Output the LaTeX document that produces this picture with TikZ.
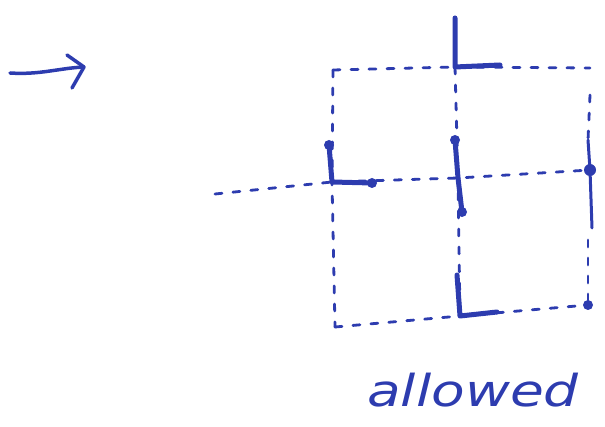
\documentclass[tikz,border=0pt]{standalone}
\usepackage{fontspec}
\setmainfont{DejaVu Sans}
\definecolor{ink}{RGB}{45,60,175}
\begin{document}
\begin{tikzpicture}[x=1pt,y=-1pt,
  gridline/.style={ink, line width=2.8pt, dash pattern=on 7pt off 11pt, line cap=round},
  lmark/.style={ink, line width=5pt, line cap=round, line join=round},
  blob/.style={circle, fill=ink, inner sep=0pt, minimum size=10pt},
  lbl/.style={ink, font=\fontsize{44}{44}\selectfont, inner sep=0pt, xscale=1.25}]
\useasboundingbox (0,0) rectangle (605,427);
% grid points
\coordinate (tl) at (333,70);
\coordinate (tm) at (455,67);
\coordinate (tr) at (590,68);
\coordinate (ml) at (332,182);
\coordinate (mm) at (458,178);
\coordinate (mr) at (590,170);
\coordinate (bl) at (335,327);
\coordinate (bm) at (460,316);
\coordinate (br) at (588,305);
\coordinate (ext) at (215,194);
\coordinate (top) at (455,18);
% dashed grid
\draw[gridline] (tl) -- (tm) -- (tr);
\draw[gridline] (ext) -- (ml) -- (mm) -- (mr);
\draw[gridline] (bl) -- (bm) -- (br);
\draw[gridline] (tl) -- (ml) -- (bl);
\draw[gridline] (tm) -- (mm) -- (bm);
\draw[gridline] (590,95) -- (588,140);
\draw[gridline] (588,240) -- (588,300);
% L marks
\coordinate (tmh) at (500,65);
\draw[lmark] (top) -- (tm) -- (tmh);
\coordinate (mlv) at (329,145);
\coordinate (mlh) at (372,183);
\draw[lmark] (mlv) -- (ml) -- (mlh);
\node[blob] (b1) at (mlv) {};
\node[blob] (b2) at (mlh) {};
\coordinate (bmv) at (457,275);
\coordinate (bmh) at (497,312);
\draw[lmark] (bmv) -- (bm) -- (bmh);
% middle vertical marks
\coordinate (mm1) at (455,140);
\coordinate (mm2) at (462,212);
\draw[lmark] (mm1) -- (mm);
\draw[lmark] (mm) -- (mm2);
\node[blob] (b3) at (mm1) {};
\node[blob] (b4) at (mm2) {};
% right middle mark
\coordinate (mr1) at (588,140);
\coordinate (mr2) at (592,228);
\draw[ink, line width=3pt, line cap=round] (mr1) -- (mr) -- (mr2);
\node[blob, minimum size=12pt] (b5) at (mr) {};
\node[blob] (b6) at (br) {};
% arrow
\coordinate (a0) at (10,73);
\coordinate (a1) at (84,67);
\coordinate (a2) at (67,55);
\coordinate (a3) at (72,88);
\draw[ink, line width=3.5pt, line cap=round, line join=round] (a0) .. controls (40,75) and (60,68) .. (a1);
\draw[ink, line width=3.5pt, line cap=round, line join=round] (a2) -- (a1) -- (a3);
% label
\node[lbl] (lab) at (473,390) {\itshape allowed};
\end{tikzpicture}
\end{document}
